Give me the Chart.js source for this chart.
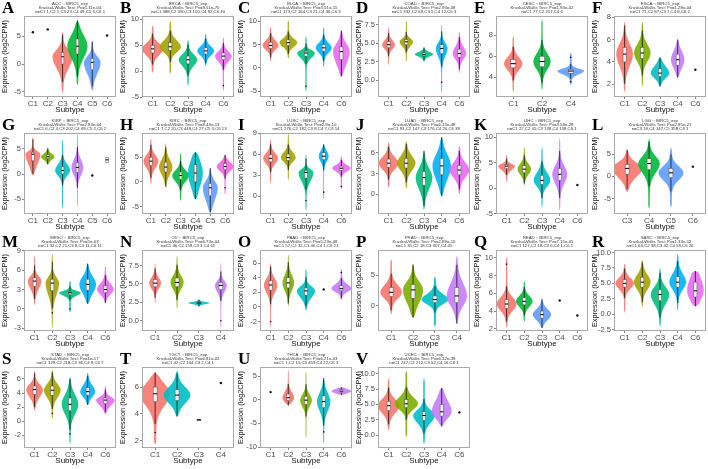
<!DOCTYPE html>
<html><head><meta charset="utf-8">
<script src="https://cdn.jsdelivr.net/npm/chart.js@4.4.1/dist/chart.umd.min.js"></script>
<style>
html,body{margin:0;padding:0;background:#fff;width:708px;height:469px;overflow:hidden}
.p{position:absolute;width:118px;height:117px}
.p canvas{position:absolute;left:0;top:0}
.lt{position:absolute;left:2px;top:-2px;font:bold 17px "Liberation Serif",serif;color:#000;z-index:2;line-height:20px}
</style></head><body>
<script>
// ---------- DATA ----------
// violin stats: [min, q1, median, q3, max, halfWidth(category units), outliers?]
// single value: [v] ; two samples (box only): [min, median, max]
const panelLetters = ['A','B','C','D','E','F','G','H','I','J','K','L','M','N','O','P','Q','R','S','T','U','V'];
const cancerTypes = ['ACC','BRCA','BLCA','COAD','CESC','ESCA','KIRP','KIRC','LUSC','LUAD','LIHC','LGG','MESO','OV','PAAD','PRAD','READ','SARC','STAD','TGCT','THCA','UCEC'];
const pValues = ['1.11e-04','9.51e-70','3.51e-15','2.93e-08','1.93e-02','1.28e-04','2.83e-04','8.43e-13','2.9e-10','6.13e-48','3.58e-28','2.85e-21','5e-03','6.73e-04','5.23e-08','2.89e-10','7.15e-05','1.33e-12','1e-17','6.81e-02','6.21e-03','6.32e-39'];
const sampleSizes = [
 'C1 1,C2 1,C3 23,C4 49,C5 3,C6 1','C1 388,C2 390,C3 100,C4 92,C6 40','C1 173,C2 164,C3 21,C4 36,C6 3',
 'C1 332,C2 69,C3 5,C4 12,C6 3','C1 77,C2 217,C4 6','C1 71,C2 87,C3 7,C4 8,C6 2',
 'C1 6,C2 4,C3 202,C4 69,C5 2,C6 2','C1 7,C2 20,C3 448,C4 27,C5 3,C6 13','C1 276,C2 182,C3 8,C4 7,C6 14',
 'C1 93,C2 147,C3 176,C4 20,C6 38','C1 22,C2 45,C3 138,C4 158,C6 1','C3 18,C4 147,C5 358,C6 1',
 'C1 32,C2 21,C3 8,C4 11,C6 11','C1 46,C2 159,C3 3,C4 61','C1 57,C2 32,C3 46,C4 1,C6 21',
 'C1 35,C2 18,C3 307,C4 45','C1 127,C2 18,C3 6,C4 1,C6 1','C1 64,C2 38,C3 42,C4 58,C6 26',
 'C1 129,C2 218,C3 36,C4 9,C6 7','C1 42,C2 104,C3 2,C4 1','C1 1,C2 15,C3 459,C4 22,C6 3','C1 247,C2 212,C3 52,C4 16,C6 1'];

const ACC_subtypes = ['C1','C2','C3','C4','C5','C6'];
const ACC_yaxis = [-5.9, 8.6, 5];
const ACC_stats = [[5.7],[6.2],[-5.2,0,1.3,2.1,5.8,0.68],[-3.8,1.8,3.2,4.5,7.8,0.68],[-4.8,-1.0,0.3,1.0,4.2,0.56],[5.1]];

const BRCA_subtypes = ['C1','C2','C3','C4','C6'];
const BRCA_yaxis = [-5.0, 10.65, 5];
const BRCA_stats = [[-0.3,3.5,4.3,5.0,8.8,0.6],[-0.5,4.0,4.7,5.5,9.7,0.6],[-2.8,1.4,2.2,2.9,6.0,0.52],[1.0,3.3,3.9,4.5,7.2,0.47],[-3.8,2.2,2.9,3.5,6.5,0.47,[-2.8]]];

const BLCA_subtypes = ['C1','C2','C3','C4','C6'];
const BLCA_yaxis = [-6.2, 11.1, 5];
const BLCA_stats = [[1.4,4.2,4.8,5.5,8.8,0.45],[2.0,4.8,5.4,6.0,10.2,0.5],[-5.0,2.5,3.2,3.6,6.8,0.5,[-3.9]],[0.2,3.6,4.3,5.0,8.7,0.45],[-1.8,1.8,3.5,4.6,8.0,0.47]];

const COAD_subtypes = ['C1','C2','C3','C4','C6'];
const COAD_yaxis = [-2.3, 8.7, 2.5];
const COAD_stats = [[2.0,4.4,4.8,5.2,7.2,0.36],[2.5,4.8,5.2,5.5,8.1,0.38],[2.5,3.3,3.5,3.7,4.5,0.52],[-1.8,3.6,4.3,4.8,7.5,0.33,[-0.3]],[0.9,3.1,3.6,4.2,6.6,0.38]];

const CESC_subtypes = ['C1','C2','C4'];
const CESC_yaxis = [2.15, 9.8, 2];
const CESC_stats = [[2.6,4.9,5.3,5.7,7.9,0.32],[2.8,5.0,5.5,6.0,9.5,0.3],[3.3,4.4,4.6,4.75,6.3,0.46,[5.9,3.6]]];

const ESCA_subtypes = ['C1','C2','C3','C4','C6'];
const ESCA_yaxis = [0.87, 8.1, 2];
const ESCA_stats = [[1.3,4.0,4.7,5.3,7.6,0.47],[1.8,4.3,4.8,5.3,7.6,0.47],[1.8,2.7,3.0,3.4,4.4,0.52],[2.6,3.7,4.2,4.7,6.0,0.38],[3.3]];

const KIRP_subtypes = ['C1','C2','C3','C4','C5','C6'];
const KIRP_yaxis = [-7.9, 8.1, 5];
const KIRP_stats = [[-0.3,2.6,3.9,4.3,7.3,0.5],[1.9,3.0,3.4,3.8,5.2,0.45],[-6.8,0,0.7,1.5,6.8,0.5],[-6.5,0.3,1.3,2.3,8.0,0.4],[-0.3],[2.2,2.8,3.3]];

const KIRC_subtypes = ['C1','C2','C3','C4','C5','C6'];
const KIRC_yaxis = [-6.5, 9.9, 5];
const KIRC_stats = [[-0.5,3.3,4.2,5.0,8.8,0.5],[-1.0,2.0,3.0,4.0,7.8,0.45],[-3.8,0.5,1.3,2.0,5.8,0.56],[-3.5,0.0,1.8,3.5,6.0,0.5],[-6.2,-2.8,-1.2,-0.3,2.8,0.5],[-2.5,2.5,3.1,3.7,5.5,0.56,[-1.2]]];

const LUSC_subtypes = ['C1','C2','C3','C4','C6'];
const LUSC_yaxis = [-2.5, 9.0, 3];
const LUSC_stats = [[1.8,4.9,5.4,5.9,8.1,0.42],[2.3,5.1,5.5,6.0,8.9,0.42],[-2.0,2.6,3.4,3.7,6.0,0.42,[-0.6]],[-0.5,5.2,5.7,6.2,7.4,0.28,[0.6]],[1.0,3.7,4.0,4.3,5.7,0.52,[1.4]]];

const LUAD_subtypes = ['C1','C2','C3','C4','C6'];
const LUAD_yaxis = [-2.9, 8.9, 3];
const LUAD_stats = [[1.0,3.9,4.5,5.1,7.5,0.56],[0.8,3.8,4.5,5.2,7.7,0.52],[-2.3,1.3,2.4,3.3,6.3,0.47],[-0.3,2.8,4.1,5.2,8.3,0.52],[0.0,2.8,3.5,4.2,7.0,0.56]];

const LIHC_subtypes = ['C1','C2','C3','C4','C6'];
const LIHC_yaxis = [-5.1, 10.8, 5];
const LIHC_stats = [[1.3,3.8,4.3,4.6,6.5,0.47],[0.5,3.0,3.7,4.4,8.0,0.38],[-3.8,0.7,1.5,2.5,8.0,0.47],[-4.5,1.5,2.7,3.8,9.8,0.42],[0.6]];

const LGG_subtypes = ['C3','C4','C5','C6'];
const LGG_yaxis = [-8.5, 9.8, 5];
const LGG_stats = [[-3.5,0.5,1.8,2.7,6.0,0.68],[-7.3,1.5,2.9,4.0,8.5,0.49],[-7.0,-0.3,0.8,1.8,6.5,0.57],[2.2]];

const MESO_subtypes = ['C1','C2','C3','C4','C6'];
const MESO_yaxis = [-3.4, 9.1, 3];
const MESO_stats = [[0.6,3.5,4.3,4.8,8.3,0.38],[-3.0,2.8,4.0,4.6,8.5,0.38,[-0.6]],[-0.5,2.2,2.5,2.7,4.3,0.61,[0]],[0.8,2.9,3.8,4.6,7.0,0.47],[0.9,2.5,3.0,3.6,6.6,0.47]];

const OV_subtypes = ['C1','C2','C3','C4'];
const OV_yaxis = [-1.4, 9.6, 2.5];
const OV_stats = [[2.4,4.6,5.1,5.6,7.8,0.27],[1.6,4.6,5.2,5.8,8.8,0.3],[1.9,2.3,2.4,2.5,2.9,0.49],[-1.0,4.2,4.8,5.2,7.9,0.27,[0]]];

const PAAD_subtypes = ['C1','C2','C3','C4','C6'];
const PAAD_yaxis = [-3.3, 7.8, 2];
const PAAD_stats = [[-2.8,2.3,3.0,3.6,6.0,0.38,[-2]],[0.1,2.6,3.3,4.0,7.2,0.33],[-0.5,1.6,2.2,2.6,5.2,0.52],[2.4],[1.0,2.2,2.5,2.9,5.2,0.56,[4.7]]];

const PRAD_subtypes = ['C1','C2','C3','C4'];
const PRAD_yaxis = [-4.2, 9.2, 5];
const PRAD_stats = [[-1.5,1.5,2.2,3.0,7.7,0.49],[-2.0,1.2,2.6,3.5,6.8,0.46],[-3.5,0.5,1.0,1.6,4.8,0.61],[-3.0,0.5,1.6,3.0,8.2,0.46]];

const READ_subtypes = ['C1','C2','C3','C4','C6'];
const READ_yaxis = [1.75, 10.9, 2];
const READ_stats = [[2.1,4.3,4.8,5.3,10.1,0.56,[9.3]],[2.8,4.7,5.1,5.5,7.4,0.47],[2.1,3.2,3.6,4.0,5.5,0.52],[5.2],[3.5]];

const SARC_subtypes = ['C1','C2','C3','C4','C6'];
const SARC_yaxis = [-2.7, 10.4, 2.5];
const SARC_stats = [[0.3,4.4,5.0,5.6,8.2,0.52],[1.2,4.4,5.2,6.0,8.8,0.47],[-2.0,2.2,3.2,4.0,7.5,0.52],[0.6,4.4,5.2,6.1,9.8,0.47],[1.3,2.8,3.8,5.2,7.0,0.47]];

const STAD_subtypes = ['C1','C2','C3','C4','C6'];
const STAD_yaxis = [-3.8, 7.7, 2];
const STAD_stats = [[1.5,3.8,4.5,5.0,7.2,0.47],[0.3,3.7,4.4,5.0,7.3,0.47,[1.1]],[-3.3,1.5,2.4,3.3,6.3,0.47,[-1.8]],[2.3,3.7,4.2,4.8,6.9,0.42],[1.0,2.5,3.0,3.3,5.0,0.52]];

const TGCT_subtypes = ['C1','C2','C3','C4'];
const TGCT_yaxis = [1.45, 7.5, 2];
const TGCT_stats = [[1.7,4.9,5.5,6.0,7.1,0.68,[2.6]],[3.8,5.0,5.4,5.8,7.2,0.61],[3.52,3.55,3.58],[6.3]];

const THCA_subtypes = ['C1','C2','C3','C4','C6'];
const THCA_yaxis = [-10.2, 6.9, 5];
const THCA_stats = [[1.6],[-1.2,-0.2,0.4,1.2,6.2,0.33],[-8.2,-1.0,-0.1,0.7,6.0,0.33],[-9.3,-1.7,-0.4,0.8,4.6,0.38,[-6.8]],[1.0,1.5,1.8,2.1,2.6,0.56]];

const UCEC_subtypes = ['C1','C2','C3','C4','C6'];
const UCEC_yaxis = [-2.1, 11.1, 2.5];
const UCEC_stats = [[0.8,4.0,4.8,5.5,9.2,0.61],[-0.3,4.5,5.1,5.8,10.5,0.66],[-1.5,2.4,3.2,3.8,9.3,0.61],[1.4,3.1,3.8,5.0,7.7,0.56],[3.7]];

// ---------- BUILD ----------
const panelSubtypes = [ACC_subtypes,BRCA_subtypes,BLCA_subtypes,COAD_subtypes,CESC_subtypes,ESCA_subtypes,KIRP_subtypes,KIRC_subtypes,LUSC_subtypes,LUAD_subtypes,LIHC_subtypes,LGG_subtypes,MESO_subtypes,OV_subtypes,PAAD_subtypes,PRAD_subtypes,READ_subtypes,SARC_subtypes,STAD_subtypes,TGCT_subtypes,THCA_subtypes,UCEC_subtypes];
const panelStats = [ACC_stats,BRCA_stats,BLCA_stats,COAD_stats,CESC_stats,ESCA_stats,KIRP_stats,KIRC_stats,LUSC_stats,LUAD_stats,LIHC_stats,LGG_stats,MESO_stats,OV_stats,PAAD_stats,PRAD_stats,READ_stats,SARC_stats,STAD_stats,TGCT_stats,THCA_stats,UCEC_stats];
const panelY = [ACC_yaxis,BRCA_yaxis,BLCA_yaxis,COAD_yaxis,CESC_yaxis,ESCA_yaxis,KIRP_yaxis,KIRC_yaxis,LUSC_yaxis,LUAD_yaxis,LIHC_yaxis,LGG_yaxis,MESO_yaxis,OV_yaxis,PAAD_yaxis,PRAD_yaxis,READ_yaxis,SARC_yaxis,STAD_yaxis,TGCT_yaxis,THCA_yaxis,UCEC_yaxis];

const PALETTES = {
 1:['#F8766D'],
 2:['#F8766D','#00BFC4'],
 3:['#F8766D','#00BA38','#619CFF'],
 4:['#F8766D','#7CAE00','#00BFC4','#C77CFF'],
 5:['#F8766D','#A3A500','#00BF7D','#00B0F6','#E76BF3'],
 6:['#F8766D','#B79F00','#00BA38','#00BFC4','#619CFF','#F564E3']
};
const FONT = '"Liberation Sans", Arial, sans-serif';

function halfWidth(s, y){
  const lo=s[0], q1=s[1], med=s[2], q3=s[3], hi=s[4], w=s[5];
  const sL=Math.max(med-q1,0.08)/0.674, sH=Math.max(q3-med,0.08)/0.674;
  const d = y<med ? (med-y)/sL : (y-med)/sH;
  let f = 0.93*Math.exp(-0.5*d*d)+0.07;
  const edge = Math.min(y-lo, hi-y)/(0.06*(hi-lo));
  f *= Math.min(1, Math.sqrt(Math.max(0,edge)));
  return w*f;
}

function makePlugin(P){
  return {
    id:'violins',
    beforeDatasetsDraw(chart){
      const xs=chart.scales.x, ys=chart.scales.y, ctx=chart.ctx, ca=chart.chartArea;
      ctx.save();
      ctx.beginPath(); ctx.rect(ca.left,ca.top,ca.width,ca.height); ctx.clip();
      const nV = P.stats.filter(s=>s.length>=6).length;
      const pal = PALETTES[nV] || PALETTES[6];
      let vi=0;
      P.stats.forEach((s,i)=>{
        if(s.length<6) return;
        const lo=s[0], hi=s[4], N=90;
        ctx.beginPath();
        for(let k=0;k<=N;k++){
          const y=lo+(hi-lo)*k/N, hw=halfWidth(s,y);
          const px=xs.getPixelForValue(i+hw), py=ys.getPixelForValue(y);
          k?ctx.lineTo(px,py):ctx.moveTo(px,py);
        }
        for(let k=N;k>=0;k--){
          const y=lo+(hi-lo)*k/N, hw=halfWidth(s,y);
          ctx.lineTo(xs.getPixelForValue(i-hw), ys.getPixelForValue(y));
        }
        ctx.closePath();
        ctx.globalAlpha=0.9;
        ctx.fillStyle=pal[vi++];
        ctx.fill();
        ctx.globalAlpha=1;
      });
      // boxes and points
      P.stats.forEach((s,i)=>{
        const cx=xs.getPixelForValue(i);
        if(s.length===1){
          ctx.fillStyle='#111';
          ctx.beginPath(); ctx.arc(cx, ys.getPixelForValue(s[0]), 1.2, 0, Math.PI*2); ctx.fill();
          return;
        }
        let wlo, q1, med, q3, whi, outl=[];
        if(s.length===3){ wlo=s[0]; q1=s[0]; med=s[1]; q3=s[2]; whi=s[2]; }
        else {
          q1=s[1]; med=s[2]; q3=s[3];
          const iqr=q3-q1;
          wlo=Math.max(s[0], q1-1.5*iqr); whi=Math.min(s[4], q3+1.5*iqr);
          outl=s[6]||[];
        }
        ctx.strokeStyle='#111'; ctx.lineWidth=0.8;
        ctx.beginPath(); ctx.moveTo(cx, ys.getPixelForValue(wlo)); ctx.lineTo(cx, ys.getPixelForValue(whi)); ctx.stroke();
        const bl=xs.getPixelForValue(i-0.09), br=xs.getPixelForValue(i+0.09);
        const bt=ys.getPixelForValue(q3), bb=ys.getPixelForValue(q1);
        ctx.fillStyle='#f2f2f2';
        ctx.fillRect(bl, bt, br-bl, Math.max(bb-bt,0.8));
        ctx.strokeStyle='#555'; ctx.lineWidth=0.5;
        ctx.strokeRect(bl, bt, br-bl, Math.max(bb-bt,0.8));
        ctx.strokeStyle='#000'; ctx.lineWidth=1;
        const my=ys.getPixelForValue(med);
        ctx.beginPath(); ctx.moveTo(bl,my); ctx.lineTo(br,my); ctx.stroke();
        ctx.fillStyle='#111';
        outl.forEach(o=>{ ctx.beginPath(); ctx.arc(cx, ys.getPixelForValue(o), 0.8, 0, Math.PI*2); ctx.fill(); });
      });
      ctx.restore();
    },
    afterDraw(chart){
      const ctx=chart.ctx, ca=chart.chartArea;
      ctx.save();
      ctx.strokeStyle='#a9a9a9'; ctx.lineWidth=1;
      ctx.strokeRect(Math.round(ca.left)+0.5, Math.round(ca.top)+0.5, Math.round(ca.width)-1, Math.round(ca.height)-1);
      ctx.fillStyle='#333';
      ctx.font='4.3px '+FONT;
      ctx.textAlign='center'; ctx.textBaseline='middle';
      const cx=(ca.left+ca.right)/2;
      P.lines.forEach((t,j)=>ctx.fillText(t, cx, 3.4+j*4.1));
      ctx.restore();
    }
  };
}

function makeChart(canvas, P){
  const cats=P.cats, n=cats.length, step=P.y[2];
  return new Chart(canvas,{
    type:'scatter',
    data:{datasets:[{data:P.stats.map((s,i)=>({x:i, y: s.length===1 ? s[0] : (s.length===3 ? s[1] : s[2])})), pointRadius:0, pointHoverRadius:0}]},
    options:{
      responsive:false, animation:false, devicePixelRatio:1, events:[],
      layout:{padding:{top:16,right:2,left:0,bottom:0}},
      plugins:{legend:{display:false}, tooltip:{enabled:false}, title:{display:false}},
      scales:{
        x:{type:'linear', min:-0.6, max:n-0.4, afterFit:s=>{s.height=20;},
          ticks:{stepSize:1, includeBounds:false, autoSkip:false, maxRotation:0, padding:0, color:'#4d4d4d', font:{family:FONT,size:8}, callback:v=>(cats[v]!==undefined?cats[v]:'')},
          grid:{drawOnChartArea:false, tickLength:2, color:'#333', lineWidth:0.6}, border:{display:false},
          title:{display:true, text:'Subtype', color:'#111', font:{family:FONT,size:8}, padding:{top:0,bottom:2}}},
        y:{min:P.y[0], max:P.y[1], afterFit:s=>{s.width=24;},
          ticks:{stepSize:step, includeBounds:false, padding:1, color:'#4d4d4d', font:{family:FONT,size:7.5}, callback:v=>(step%1 ? v.toFixed(1) : String(v))},
          grid:{drawOnChartArea:false, tickLength:2, color:'#333', lineWidth:0.6}, border:{display:false},
          title:{display:true, text:'Expression (log2CPM)', color:'#111', font:{family:FONT,size:7.3}, padding:{top:1,bottom:0}}}
      }
    },
    plugins:[makePlugin(P)]
  });
}

panelLetters.forEach((L,idx)=>{
  const col=idx%6, row=Math.floor(idx/6);
  const div=document.createElement('div');
  div.className='p'; div.style.left=(col*118)+'px'; div.style.top=(row*117)+'px';
  const cv=document.createElement('canvas'); cv.width=118; cv.height=117;
  cv.style.width='118px'; cv.style.height='117px';
  div.appendChild(cv);
  const lt=document.createElement('div'); lt.className='lt'; lt.textContent=L;
  div.appendChild(lt);
  document.body.appendChild(div);
  makeChart(cv,{
    cats:panelSubtypes[idx], stats:panelStats[idx], y:panelY[idx],
    lines:[cancerTypes[idx]+' :: BIRC5_exp','Kruskal-Wallis Test: Pv='+pValues[idx],'n='+sampleSizes[idx]]
  });
});
</script>
</body></html>
